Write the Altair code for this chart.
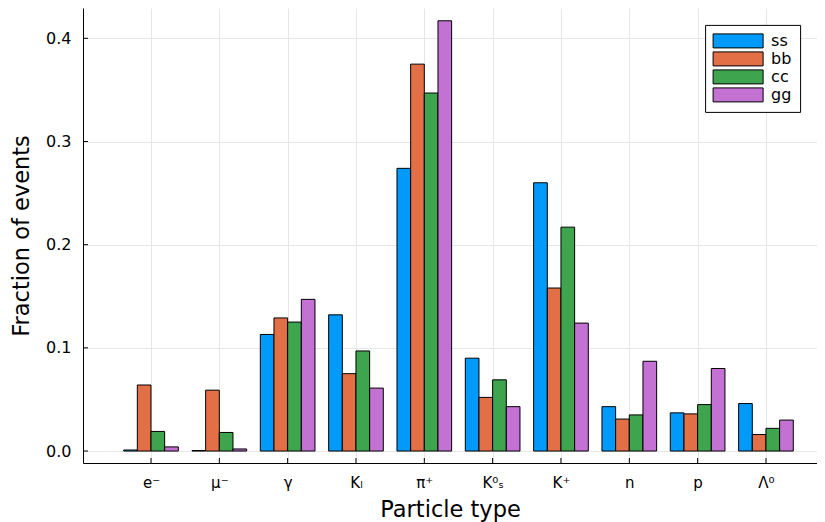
import altair as alt
import pandas as pd

categories = ["e⁻", "μ⁻", "γ", "Kₗ", "π⁺", "K⁰ₛ", "K⁺", "n", "p", "Λ⁰"]
series = ["ss", "bb", "cc", "gg"]
colors = ["#009AFA", "#E36F47", "#3EA44E", "#C371D2"]
ss = [0.001, 0.0005, 0.113, 0.132, 0.274, 0.090, 0.260, 0.043, 0.037, 0.046]
bb = [0.064, 0.059, 0.129, 0.075, 0.375, 0.052, 0.158, 0.031, 0.036, 0.016]
cc = [0.019, 0.018, 0.125, 0.097, 0.347, 0.069, 0.217, 0.035, 0.045, 0.022]
gg = [0.004, 0.002, 0.147, 0.061, 0.417, 0.043, 0.124, 0.087, 0.080, 0.030]
y_ticks = [0.0, 0.1, 0.2, 0.3, 0.4]

values = {"ss": ss, "bb": bb, "cc": cc, "gg": gg}
rows = []
for k, s in enumerate(series):
    for i, c in enumerate(categories):
        rows.append({"series": s, "sidx": k, "idx": i + 1, "cat": c, "value": values[s][i]})
df = pd.DataFrame(rows)
xt = pd.DataFrame({"x0": list(range(1, len(categories) + 1))})
yt = pd.DataFrame({"value": y_ticks})

FONT = "DejaVu Sans"
W, H = 734, 455
xdom = [0.005, 10.747]
ydom = [-0.0116, 0.4294]

label_expr = "[" + ",".join("'" + c + "'" for c in categories) + "][datum.value - 1]"

xscale = alt.Scale(domain=xdom, nice=False, zero=False)
yscale = alt.Scale(domain=ydom, nice=False, zero=False)
xaxis = alt.Axis(values=list(range(1, len(categories) + 1)), labelExpr=label_expr,
                 grid=True, ticks=False, labelPadding=12, titlePadding=8,
                 labelFontSize=15)
yaxis = alt.Axis(values=y_ticks, format=".1f", grid=True, ticks=False,
                 labelPadding=12, titlePadding=12, labelFontSize=16)

bars = alt.Chart(df).transform_calculate(
    x0="datum.idx - 0.4 + 0.2 * datum.sidx",
    x1="datum.idx - 0.2 + 0.2 * datum.sidx",
).mark_bar(stroke="black", strokeWidth=1, opacity=1).encode(
    x=alt.X("x0:Q", scale=xscale, axis=xaxis, title="Particle type"),
    x2="x1:Q",
    y=alt.Y("value:Q", scale=yscale, axis=yaxis, title="Fraction of events"),
    y2=alt.datum(0),
    color=alt.Color("series:N", scale=alt.Scale(domain=series, range=colors),
                    legend=alt.Legend(title=None, orient="none", legendX=622.1, legendY=16.9,
                                      symbolType="M-3.571,-1L3.571,-1L3.571,1L-3.571,1Z",
                                      symbolSize=196, symbolStrokeColor="black",
                                      symbolStrokeWidth=1, symbolOffset=17, labelOffset=25,
                                      labelFontSize=16, labelFont=FONT, rowPadding=0,
                                      padding=8, strokeColor="black", fillColor="white",
                                      cornerRadius=0, symbolOpacity=1)),
)

xticks = alt.Chart(xt).mark_rule(color="black", strokeWidth=1).encode(
    x=alt.X("x0:Q", scale=xscale, axis=xaxis, title="Particle type"),
    y=alt.value(H),
    y2=alt.value(H - 5),
)
yticks = alt.Chart(yt).mark_rule(color="black", strokeWidth=1).encode(
    y=alt.Y("value:Q", scale=yscale, axis=yaxis, title="Fraction of events"),
    x=alt.value(0),
    x2=alt.value(5),
)

chart = alt.layer(bars, xticks, yticks).properties(
    width=W, height=H,
    autosize=alt.AutoSizeParams(type="none"),
    padding={"left": 75, "top": 0, "right": 0, "bottom": 59},
).configure(background="white").configure_view(strokeWidth=0).configure_axis(
    domainColor="black", domainWidth=1, gridColor="#e6e6e6", gridWidth=1,
    labelFont=FONT, titleFont=FONT, titleFontSize=22.5,
    titleFontWeight="normal", labelColor="black", titleColor="black",
)

chart.save("out.html", embed_options={"renderer": "svg", "actions": False})
